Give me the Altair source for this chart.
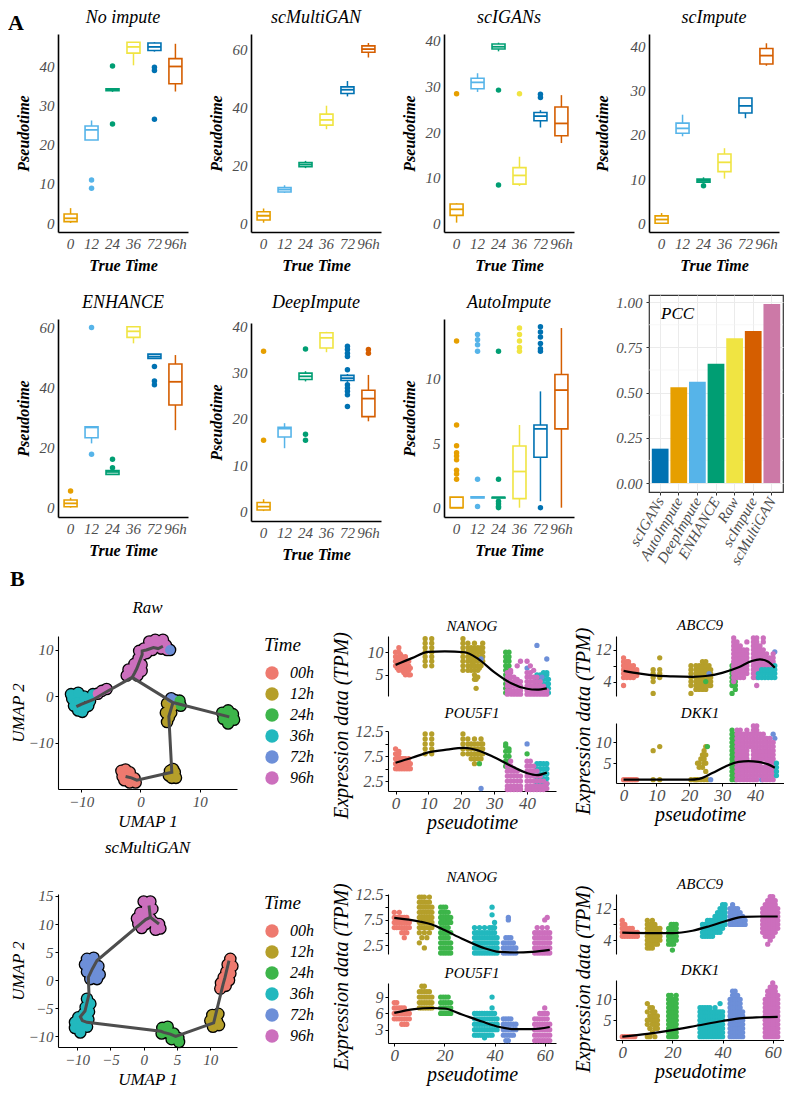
import altair as alt
import pandas as pd

FONT = "Liberation Serif"

# ---------------- Panel A data ----------------
TIMES_A = ["0", "12", "24", "36", "72", "96h"]
COLORS_A = ["#E69F00", "#56B4E9", "#009E73", "#F0E442", "#0072B2", "#D55E00"]

# (lower whisker, q1, median, q3, upper whisker) for each time point
NOIMPUTE_BOX = [(0.0, 0.34, 1.2, 2.3, 3.8), (21.2, 21.2, 23.8, 24.8, 26.2), (33.5, 33.8, 34.1, 34.3, 34.5),
                (40.3, 43.4, 45.0, 46.2, 46.2), (43.8, 44.1, 45.0, 46.0, 46.2), (33.6, 35.6, 40.0, 42.0, 45.8)]
NOIMPUTE_OUT = [("12", 11.0), ("12", 8.9), ("24", 40.1), ("24", 25.3), ("72", 39.8), ("72", 39.0), ("72", 26.5)]

MULTIGAN_BOX = [(0.2, 1.15, 2.6, 4.0, 5.1), (10.5, 10.8, 11.6, 12.3, 13.1), (19.0, 19.5, 20.2, 20.9, 21.5),
                (32.4, 33.8, 35.6, 37.6, 40.5), (43.7, 44.7, 46.0, 47.0, 49.0), (57.1, 58.9, 60.0, 61.1, 62.1)]
MULTIGAN_OUT = []

IGANS_BOX = [(0.15, 1.75, 3.07, 4.24, 4.4), (28.8, 29.5, 30.9, 31.8, 32.9), (37.7, 38.2, 38.7, 39.3, 39.6),
             (8.2, 8.6, 10.5, 12.2, 14.6), (21.0, 22.5, 23.5, 24.3, 24.8), (17.6, 19.2, 21.9, 25.5, 28.1)]
IGANS_OUT = [("0", 28.4), ("24", 29.2), ("24", 8.4), ("36", 28.4), ("72", 28.3), ("72", 27.6)]

SCIMPUTE_BOX = [(0.0, 0.0, 0.83, 1.66, 2.3), (19.7, 20.4, 21.5, 22.7, 24.6), (9.3, 9.3, 9.6, 10.0, 10.4),
                (10.1, 11.7, 13.8, 15.7, 17.0), (23.8, 25.0, 26.6, 28.4, 28.4), (35.7, 36.1, 38.0, 39.6, 40.8)]
SCIMPUTE_OUT = [("24", 8.5)]

ENHANCE_BOX = [(0.0, 0.33, 1.44, 2.55, 3.3), (21.4, 23.3, 26.7, 26.9, 26.9), (10.9, 11.1, 11.9, 12.4, 12.4),
               (54.7, 56.7, 58.7, 60.2, 60.2), (49.7, 49.7, 50.3, 51.1, 51.1), (25.8, 34.2, 41.9, 47.8, 50.8)]
ENHANCE_OUT = [("0", 5.55), ("12", 17.8), ("12", 60.0), ("24", 16.1), ("24", 13.3),
               ("72", 47.0), ("72", 42.2), ("72", 40.9)]

DEEP_BOX = [(0.14, 0.36, 1.08, 2.0, 2.7), (13.7, 16.1, 17.9, 18.2, 19.1), (28.1, 28.5, 29.2, 29.9, 30.3),
            (34.4, 35.3, 37.5, 38.6, 38.8), (28.0, 28.3, 28.8, 29.4, 29.7), (19.5, 20.5, 24.4, 26.2, 29.5)]
DEEP_OUT = [("0", 34.6), ("0", 15.4), ("24", 35.1), ("24", 16.7), ("24", 15.4),
            ("72", 35.7), ("72", 35.0), ("72", 34.2), ("72", 33.5), ("72", 30.6), ("72", 27.4),
            ("72", 26.7), ("72", 26.0), ("72", 25.2), ("72", 22.7), ("96h", 35.0), ("96h", 34.2)]

AUTO_BOX = [(0.0, 0.0, 0.0, 0.82, 0.82), (0.75, 0.75, 0.8, 0.85, 0.85), (0.75, 0.75, 0.8, 0.8, 0.8),
            (0.0, 0.7, 2.8, 4.77, 6.4), (0.5, 3.9, 6.1, 6.4, 9.0), (0.0, 6.1, 9.1, 10.3, 13.9)]
AUTO_OUT = [("0", 12.9), ("0", 6.4), ("0", 4.8), ("0", 4.25), ("0", 4.0), ("0", 3.7), ("0", 2.9), ("0", 2.6), ("0", 2.2),
            ("12", 13.4), ("12", 13.0), ("12", 12.6), ("12", 12.1), ("12", 2.2), ("12", 0.1),
            ("24", 12.1), ("24", 2.2), ("24", 0.5), ("24", 0.3), ("24", 0.1), ("24", 0.0),
            ("36", 13.9), ("36", 13.4), ("36", 12.9), ("36", 12.4), ("36", 12.1),
            ("72", 14.0), ("72", 13.6), ("72", 13.2), ("72", 12.7), ("72", 12.3), ("72", 12.1), ("72", 0.0)]

PCC_METHODS = ["scIGANs", "AutoImpute", "DeepImpute", "ENHANCE", "Raw", "scImpute", "scMultiGAN"]
PCC_VALUES = [0.19, 0.53, 0.56, 0.66, 0.80, 0.84, 0.99]
PCC_COLORS = ["#0072B2", "#E69F00", "#56B4E9", "#009E73", "#F0E442", "#D55E00", "#CC79A7"]
PCC_MINOR = [0.125, 0.375, 0.625, 0.875]

# ---------------- Panel B data ----------------
TIMES_B = ["00h", "12h", "24h", "36h", "72h", "96h"]
COLORS_B = ["#EE7A6F", "#B59F2A", "#3DB54A", "#22B8BE", "#6D8FD8", "#CC6FBD"]

# UMAP cluster points (time, UMAP1, UMAP2)
UMAP_RAW = [
    ("96h", -0.3, 8.2), ("96h", 0.3, 9.0), ("96h", -0.2, 9.8), ("96h", 0.6, 10.3), ("96h", 1.5, 10.8),
    ("96h", 1.5, 11.8), ("96h", 2.5, 11.2), ("96h", 2.5, 12.2), ("96h", 3.3, 11.5), ("96h", 3.5, 10.3),
    ("96h", 4.3, 11.0), ("96h", 4.5, 10.0), ("96h", 2.0, 10.0), ("96h", 1.0, 9.3), ("96h", 3.8, 12.2),
    ("72h", 5.0, 10.0),
    ("96h", -2.3, 4.5), ("96h", -1.5, 5.5), ("96h", -0.6, 6.3), ("96h", 0.2, 6.8), ("96h", -0.5, 4.5),
    ("96h", 0.2, 5.5), ("96h", -2.0, 5.8), ("96h", -1.0, 7.0),
    ("36h", -11.5, -0.5), ("36h", -11.2, -2.0), ("36h", -10.5, -3.0), ("36h", -10.3, -1.0), ("36h", -9.5, 0.0),
    ("36h", -9.3, -2.3), ("36h", -8.5, -1.0), ("36h", -8.0, 0.5), ("36h", -11.7, 0.5), ("36h", -10.5, 0.8),
    ("36h", -9.8, -3.3), ("36h", -8.8, -2.0),
    ("96h", -7.2, 0.6), ("96h", -6.5, 1.2), ("96h", -5.7, 1.6),
    ("12h", 4.5, -1.5), ("12h", 5.0, -2.5), ("12h", 4.3, -3.5), ("12h", 4.8, -4.5), ("12h", 4.5, -5.5),
    ("12h", 5.5, -2.0), ("12h", 5.2, -3.5),
    ("72h", 5.2, -0.4), ("72h", 5.8, -0.8), ("24h", 6.6, -0.9), ("24h", 6.8, -2.0),
    ("12h", 5.0, -16.0), ("12h", 5.8, -16.3), ("12h", 5.3, -17.5), ("12h", 6.0, -17.5), ("12h", 4.8, -17.0),
    ("12h", 5.5, -15.6),
    ("24h", 13.8, -3.5), ("24h", 14.8, -3.0), ("24h", 15.6, -3.8), ("24h", 14.0, -4.8), ("24h", 15.0, -5.0),
    ("24h", 15.8, -5.0), ("24h", 14.8, -5.8),
    ("00h", -3.2, -16.0), ("00h", -2.5, -15.7), ("00h", -1.8, -16.3), ("00h", -3.0, -17.2), ("00h", -2.0, -17.5),
    ("00h", -1.0, -17.6), ("00h", -0.8, -18.5), ("00h", -1.8, -18.5), ("00h", -2.7, -18.0),
]
TRAJ_RAW = [
    [(3.8, 10.8), (3.0, 10.3), (2.2, 10.5), (1.5, 10.2), (1.0, 10.0), (0.3, 9.8), (0.3, 9.0), (0.0, 8.0),
     (-0.3, 7.0), (-0.6, 6.0), (-1.0, 5.0), (-1.4, 4.1)],
    [(-1.4, 4.1), (-6.0, 0.8), (-8.0, -0.7), (-10.0, -1.7), (-10.8, -2.2)],
    [(-1.4, 4.1), (5.5, -1.3), (15.0, -4.4)],
    [(5.5, -1.3), (4.8, -4.3), (5.3, -16.3), (-0.6, -18.0), (-1.5, -17.5), (-2.5, -17.2)],
]

UMAP_MG = [
    ("96h", 0.0, 14.0), ("96h", 1.0, 14.0), ("96h", 0.5, 13.0), ("96h", 1.3, 12.7), ("96h", -0.5, 12.0),
    ("96h", 0.5, 12.0), ("96h", -1.0, 11.0), ("96h", 0.0, 11.0), ("96h", 1.0, 11.0), ("96h", -0.8, 10.0),
    ("96h", 0.3, 10.0), ("96h", 1.5, 10.3), ("96h", 2.3, 10.0), ("96h", 2.5, 9.2), ("96h", 1.8, 9.0),
    ("96h", -0.3, 9.3),
    ("72h", -8.5, 3.8), ("72h", -7.5, 4.0), ("72h", -8.8, 2.8), ("72h", -7.8, 2.8), ("72h", -6.8, 2.5),
    ("72h", -8.5, 1.5), ("72h", -7.5, 1.5), ("72h", -6.6, 1.0), ("72h", -8.0, 0.2), ("72h", -7.0, 0.2),
    ("36h", -8.5, -3.3), ("36h", -8.0, -4.2), ("36h", -8.7, -4.8), ("36h", -8.2, -5.6), ("36h", -9.0, -6.0),
    ("36h", -9.8, -6.6), ("36h", -10.3, -7.5), ("36h", -9.3, -7.3), ("36h", -8.3, -7.0), ("36h", -10.3, -8.5),
    ("36h", -9.5, -8.7), ("36h", -8.5, -8.3), ("36h", -9.5, -9.3),
    ("24h", 2.8, -8.5), ("24h", 3.6, -8.3), ("24h", 2.7, -9.5), ("24h", 3.7, -9.4), ("24h", 4.5, -9.5),
    ("24h", 4.2, -10.5), ("24h", 5.2, -10.3), ("24h", 5.3, -11.0),
    ("12h", 10.3, -6.2), ("12h", 11.2, -6.0), ("12h", 10.0, -7.2), ("12h", 11.0, -7.3), ("12h", 10.4, -8.3),
    ("12h", 11.3, -8.0),
    ("00h", 13.0, 3.8), ("00h", 12.6, 2.8), ("00h", 13.3, 2.5), ("00h", 12.4, 1.5), ("00h", 13.0, 1.2),
    ("00h", 12.0, 0.5), ("00h", 12.8, 0.0), ("00h", 11.6, -0.5), ("00h", 12.3, -1.0), ("00h", 11.5, -1.5),
]
TRAJ_MG = [
    [(12.8, 3.5), (12.5, 2.0), (12.2, 0.5), (11.9, -0.8), (10.5, -7.6), (4.8, -10.0), (4.0, -9.6), (3.0, -9.3),
     (2.6, -9.1), (-8.5, -7.5), (-9.2, -7.2), (-9.5, -6.5), (-8.8, -5.5), (-8.5, -4.0), (-8.2, -2.5),
     (-8.3, 0.5), (-7.7, 2.0), (-7.0, 3.5), (0.3, 10.8), (1.0, 11.2), (2.3, 10.0)],
    [(1.0, 11.2), (0.9, 12.3), (0.8, 13.3)],
]

# Gene expression columns: (time, pseudotime, [expression values])
RAW_NANOG = [
    ("00h", 0, [7, 8, 9, 10]), ("00h", 0.5, [6.5, 7.5, 8.5]), ("00h", 1, [6, 7, 8, 9, 10, 11]),
    ("00h", 1.5, [6.5, 7.5, 8.5, 9.5]), ("00h", 2, [6, 7, 8, 9]), ("00h", 2.5, [5.5, 6.5, 7.5, 8.5]),
    ("00h", 3, [5, 6, 7, 8, 9]), ("00h", 3.5, [6, 7]), ("00h", 4, [5, 6, 7, 8]), ("00h", 4.5, [5, 6.5]),
    ("12h", 9, [7, 8, 9, 10, 11, 12, 13]), ("12h", 11, [7, 8, 9, 10, 11, 12, 13]),
    ("12h", 20.5, [6, 7, 8, 9, 10, 11, 12, 13]), ("12h", 22, [6, 7, 8, 9, 10, 11, 12]),
    ("12h", 23, [6, 7, 8, 9, 10, 11]), ("12h", 23.5, [7.5, 9.5]), ("12h", 24, [4, 5, 6, 7, 8, 9, 10, 11, 12]),
    ("12h", 24.5, [2, 4]), ("12h", 25, [4.5, 6, 7, 8, 9, 10, 11]), ("12h", 25.5, [6.5, 8.5, 10.5]),
    ("12h", 26, [7, 8, 9, 10, 11]), ("12h", 26.5, [8, 9, 10, 11, 12]),
    ("24h", 33.5, [1, 2, 3, 4, 5, 6, 7, 8, 9, 10]), ("24h", 34.5, [1, 2, 3, 4, 5, 6, 7, 8, 9, 10]),
    ("36h", 43, [1, 2, 3, 4, 5]), ("36h", 44, [1, 2, 3, 4, 5]), ("36h", 45, [1, 2, 3, 4, 5, 5.5]),
    ("36h", 46, [1, 2, 3, 4, 5, 5.5]), ("36h", 46.5, [1, 2, 3, 4]),
    ("72h", 26, [8.5]), ("72h", 40, [6.5]), ("72h", 43, [11.5]), ("72h", 46, [8.5]), ("72h", 44.5, [4.5]),
    ("96h", 34, [0.7, 1.5, 2.5, 3.5, 4.5, 5.5]), ("96h", 35, [0.7, 1.5, 2.5, 3.5, 4.5, 5.5, 6]),
    ("96h", 36, [0.7, 1.5, 2.5, 3.5, 4.5]), ("96h", 37, [0.7, 1.5, 2.5, 3.5, 4, 7]),
    ("96h", 38, [0.7, 1.5, 2.5, 3.5, 8]), ("96h", 40, [0.7, 1.5, 2.5, 3.5, 4.5, 5.5, 8]),
    ("96h", 41, [0.7, 1.5, 2.5, 3.5, 4.5, 5.5, 7]), ("96h", 42, [0.7, 1.5, 2.5, 3.5, 4.5, 6]),
    ("96h", 43, [0.7, 1.5, 2.5, 3.5, 4.5]), ("96h", 44, [0.7, 1.5, 2.5, 3.5]),
    ("96h", 45, [0.7, 1.5, 2.5]), ("96h", 46, [0.7, 1.5]),
]
RAW_NANOG_CURVE_X = [0, 5, 10, 15, 21, 25, 30, 35, 40, 43, 46]
RAW_NANOG_CURVE_Y = [7.2, 8.7, 10.1, 10.2, 10.0, 8.6, 5.6, 3.2, 1.9, 1.7, 2.0]

RAW_POU5F1 = [
    ("00h", 0, [5, 6, 7, 8, 9]), ("00h", 0.5, [5, 6, 7, 8]), ("00h", 1, [5, 6, 7, 8, 8.5]), ("00h", 1.5, [5, 6, 7]),
    ("00h", 2, [5, 5.5, 6, 7]), ("00h", 2.5, [5, 6, 7]), ("00h", 3, [5, 6, 7]), ("00h", 3.5, [5, 6]),
    ("00h", 4, [5, 6, 7]), ("00h", 4.5, [5, 6]),
    ("12h", 9, [8, 9, 10, 11, 12]), ("12h", 11, [8, 9, 10, 11, 12]), ("12h", 20.5, [8, 9, 10, 11, 12]),
    ("12h", 22, [8, 9, 10, 11]), ("12h", 23, [7, 8, 9, 10]), ("12h", 24, [6, 7, 8, 9, 10, 11]),
    ("12h", 25, [7, 8, 9, 10]), ("12h", 26, [7, 8, 9, 10, 11]), ("12h", 26.5, [8, 9, 10]),
    ("24h", 25.5, [6]), ("24h", 33.5, [5.5, 6.5, 7.5, 8.5, 9.5, 10]), ("24h", 34.5, [5.5, 6.5, 7.5, 8.5, 9]),
    ("24h", 40, [8]),
    ("72h", 26, [1]), ("72h", 40, [10]), ("72h", 44, [6]), ("72h", 46, [5]),
    ("36h", 43, [2, 3, 4, 5, 6]), ("36h", 44, [2, 3, 4, 5, 6]), ("36h", 45, [2, 3, 4, 5, 6]),
    ("36h", 46, [2, 3, 4, 5, 6]),
    ("96h", 34, [0.8, 1.5, 2.5, 3.5, 4.5, 5.5]), ("96h", 35, [0.8, 1.5, 2.5, 3.5, 4.5, 5.5, 6.5]),
    ("96h", 36, [0.8, 1.5, 2.5, 3.5, 4.5, 5]), ("96h", 37, [0.8, 1.5, 2.5, 3.5, 4.5]),
    ("96h", 38, [0.8, 1.5, 2.5, 3.5]), ("96h", 40, [0.8, 1.5, 2.5, 3.5, 4.5, 5.5, 6.5]),
    ("96h", 41, [0.8, 1.5, 2.5, 3.5, 4.5, 5.5, 6.5]), ("96h", 42, [0.8, 1.5, 2.5, 3.5, 4.5, 5.5]),
    ("96h", 43, [0.8, 1.5, 2.5, 3.5, 4.5]), ("96h", 44, [0.8, 1.5, 2.5, 3.5]),
    ("96h", 45, [0.8, 1.5, 2.5]), ("96h", 46, [1, 2]),
]
RAW_POU5F1_CURVE_X = [0, 5, 10, 15, 21, 25, 30, 35, 40, 43, 46]
RAW_POU5F1_CURVE_Y = [6.2, 7.2, 8.3, 8.8, 9.2, 8.7, 7.3, 5.6, 4.1, 3.7, 4.2]

RAW_ABCC9 = [
    ("00h", 0, [3, 5, 6, 7, 8, 9, 10]), ("00h", 0.5, [6, 7, 8]), ("00h", 1, [5, 6, 7, 8, 9]),
    ("00h", 1.5, [6, 7, 9]), ("00h", 2, [5, 6, 7, 8]), ("00h", 2.5, [6, 7]), ("00h", 3, [5, 6, 7, 8]),
    ("00h", 4, [5.5, 6.5, 7]),
    ("12h", 9, [1, 4, 5, 6, 7]), ("12h", 11, [5, 6, 7, 10]), ("12h", 20.5, [1, 3, 4, 5, 6, 7, 8]),
    ("12h", 22, [2, 3, 4, 5, 6, 7, 8]), ("12h", 23, [2, 3, 4, 5, 6, 7, 8]),
    ("12h", 24, [2, 3, 4, 5, 6, 7, 8, 9]), ("12h", 25, [2, 3, 4, 5, 6, 7, 8, 9]),
    ("12h", 26, [3, 4, 5, 6, 7, 8]), ("12h", 26.5, [3, 4, 5, 6, 7]),
    ("72h", 26, [6]), ("72h", 46, [11.5]),
    ("24h", 25, [4]), ("24h", 33, [1, 3, 4, 5, 6, 7, 8]), ("24h", 34, [2, 3, 4, 5, 6, 7]),
    ("96h", 33.5, [4, 5, 6, 7, 8, 9, 10, 11, 12, 13, 14, 15]), ("96h", 34.5, [5, 6, 7, 8, 9, 10, 11, 12, 13, 14]),
    ("96h", 35.5, [5, 6, 7, 8, 9, 10, 11, 12, 13]), ("96h", 36.5, [5, 6, 7, 8, 9, 10, 11, 12]),
    ("96h", 37.5, [6, 7, 8, 9, 10, 11, 12, 14]), ("96h", 39.5, [5, 6, 7, 8, 9, 10, 11, 12, 13, 14, 15]),
    ("96h", 40.5, [3, 5, 6, 7, 8, 9, 10, 11, 12, 13, 14, 15]), ("96h", 41.5, [7, 8, 9, 10, 11, 12, 13]),
    ("96h", 42.5, [8, 9, 10, 11, 12, 14, 15]), ("96h", 43.5, [8, 9, 10, 11]),
    ("96h", 44.5, [8, 9, 10]), ("96h", 45.5, [8, 9, 10, 11]),
    ("36h", 41, [5, 6]), ("36h", 42, [5, 6, 7]), ("36h", 43, [5, 6, 7]), ("36h", 44, [5, 6, 7]),
    ("36h", 45, [5, 6, 7]), ("36h", 46, [5, 6, 7, 8]),
]
RAW_ABCC9_CURVE_X = [0, 5, 10, 15, 21, 25, 30, 35, 39, 41.5, 44, 46]
RAW_ABCC9_CURVE_Y = [6.7, 6.0, 5.5, 5.3, 5.2, 5.4, 6.2, 7.6, 9.2, 9.6, 9.0, 7.5]

RAW_DKK1 = [
    ("00h", 0, [1]), ("00h", 0.5, [1]), ("00h", 1, [1]), ("00h", 1.5, [1]), ("00h", 2, [1]), ("00h", 2.5, [1]),
    ("00h", 3, [1]), ("00h", 3.5, [1]), ("00h", 4, [1]),
    ("12h", 9, [1, 8]), ("12h", 11, [1, 9]), ("12h", 20.5, [1]), ("12h", 21.5, [1]), ("12h", 22, [1]),
    ("12h", 22.5, [1, 5]), ("12h", 23, [4, 5]), ("12h", 23.5, [1, 6]), ("12h", 24, [4, 7]),
    ("12h", 24.5, [1, 5, 6, 8]), ("12h", 25, [3, 5, 7, 9]), ("12h", 25.5, [1]),
    ("24h", 25.5, [9]), ("24h", 33, [1, 2, 3, 4, 5, 6, 7, 8, 9, 10, 11, 12, 13]),
    ("24h", 34, [1, 2, 3, 4, 5, 6, 7, 8, 9, 10, 11, 12]),
    ("72h", 26.5, [1]), ("72h", 42, [1]), ("72h", 45.5, [12]), ("72h", 46, [3, 11]),
    ("96h", 34.5, [1, 2, 3, 4, 5, 6, 7, 8, 9, 10, 11, 12, 13]),
    ("96h", 35.5, [1, 2, 3, 4, 5, 6, 7, 8, 9, 10, 11, 12, 13]),
    ("96h", 36.5, [1, 2, 3, 4, 5, 6, 7, 8, 9, 10, 11, 12]),
    ("96h", 37.5, [1, 2, 3, 4, 5, 6, 7, 8, 9, 10, 11, 12, 13]),
    ("96h", 38.5, [1, 2, 3, 4, 5, 9, 10, 11, 12]),
    ("96h", 39.5, [1, 2, 3, 4, 5, 6, 7, 8, 9, 10, 11, 12, 13, 14]),
    ("96h", 40.5, [1, 2, 3, 4, 5, 6, 7, 8, 9, 10, 11, 12, 13, 14]),
    ("96h", 41.5, [2, 3, 4, 5, 6, 7, 8, 9, 10, 11, 12]),
    ("96h", 42.5, [1, 2, 3, 4, 6, 7, 8, 9, 10, 11, 12]),
    ("96h", 43.5, [1, 2, 3, 4, 5, 6, 7, 8, 9, 10, 11]),
    ("96h", 44.5, [1, 2, 3, 4, 5, 6, 7, 8, 9, 10, 11]),
    ("96h", 45.5, [1, 2, 3, 4, 5, 6, 7, 8, 9, 10]),
    ("36h", 46.5, [2, 3, 4, 5]),
]
RAW_DKK1_CURVE_X = [0, 10, 20, 23, 27, 31, 35, 38, 41, 44, 46]
RAW_DKK1_CURVE_Y = [1.0, 1.0, 1.0, 1.2, 2.6, 4.2, 5.3, 5.5, 5.3, 4.7, 3.9]

MG_NANOG = [
    ("00h", 0, [6, 7, 8, 9]), ("00h", 1, [6, 7, 8]), ("00h", 2, [6, 7, 8, 9]), ("00h", 3, [5, 6, 7, 8]),
    ("00h", 4, [4, 5, 6, 7, 8]), ("00h", 5, [5, 6, 7, 8]), ("00h", 6, [6, 7]),
    ("12h", 10, [3, 5, 6, 7, 8, 9, 10, 11, 12]), ("12h", 11, [4, 6, 7, 8, 9, 10, 11, 12]),
    ("12h", 12, [2, 5, 6, 7, 8, 9, 10, 11, 12]), ("12h", 13, [4, 6, 7, 8, 9, 10, 11]),
    ("12h", 14, [5, 6, 7, 8, 9, 10, 11, 12]), ("12h", 15, [6, 7, 8, 9, 10]),
    ("24h", 18.5, [1, 2, 3, 4, 5, 6, 7, 8, 9, 10]), ("24h", 19.5, [1, 2, 3, 4, 5, 6, 7, 8, 9, 10]),
    ("24h", 20.5, [1, 2, 3, 4, 5, 6, 7, 8, 9, 10]), ("24h", 21.5, [1, 2, 3, 4, 5, 6, 7, 8, 9]),
    ("24h", 22.5, [1, 2, 3, 5, 7, 8]),
    ("36h", 32, [1, 2, 3, 4, 5, 6]), ("36h", 33, [1, 2, 3, 4, 5]), ("36h", 34, [1, 2, 3, 4, 5, 6]),
    ("36h", 35, [1, 2, 3, 4, 5]), ("36h", 36, [1, 2, 3, 4, 5, 6]), ("36h", 37, [1, 2, 3, 4, 5]),
    ("36h", 38, [1, 2, 3, 4, 5, 6]), ("36h", 39, [1, 2, 3, 4, 5, 6, 8.5, 10]),
    ("36h", 40, [1, 2, 3, 4, 5, 6, 7]), ("36h", 41, [1, 2, 3, 4]),
    ("72h", 43.5, [1, 2, 3]), ("72h", 44.5, [1, 2, 3, 4]), ("72h", 45.5, [1, 2, 3, 4, 7.5, 8]),
    ("72h", 46.5, [1, 2, 3, 4]), ("72h", 47.5, [1, 2, 3]), ("72h", 48.5, [1, 2]),
    ("96h", 56, [1, 2, 3, 4, 5]), ("96h", 57, [1, 2, 3, 4, 5, 6]), ("96h", 58, [1, 2, 3, 4, 5]),
    ("96h", 59, [1, 2, 3, 4, 5, 6]), ("96h", 60, [1, 2, 3, 4, 5, 7.5]), ("96h", 61, [1, 2, 3, 4, 5, 6, 8]),
    ("96h", 62, [1, 2, 3, 4, 5]),
]
MG_NANOG_CURVE_X = [0, 10, 15, 20, 27, 35, 42, 48, 55, 62]
MG_NANOG_CURVE_Y = [7.9, 7.2, 6.6, 5.5, 3.8, 2.1, 1.2, 1.1, 1.2, 1.6]

MG_POU5F1 = [
    ("00h", 0, [5, 6, 7, 8]), ("00h", 1, [5, 6, 7, 8]), ("00h", 2, [5, 6, 7]), ("00h", 3, [4, 5, 6, 7]),
    ("00h", 4, [4, 5, 6, 7]), ("00h", 5, [4, 5, 6]), ("00h", 6, [5, 6]),
    ("12h", 10, [7, 8, 9, 10]), ("12h", 11, [7, 8, 9, 10, 11]), ("12h", 12, [7, 8, 9, 10, 11]),
    ("12h", 13, [7, 8, 9, 10]), ("12h", 14, [7, 8, 9, 10]), ("12h", 15, [7, 8, 9]),
    ("24h", 18.5, [6, 7, 8, 9]), ("24h", 19.5, [6, 7, 8, 9]), ("24h", 20.5, [6, 7, 8, 9]),
    ("24h", 21.5, [6, 7, 8, 9]), ("24h", 22.5, [6, 7, 8]),
    ("36h", 32, [2, 3, 4, 5, 6]), ("36h", 33, [2, 3, 4, 5, 6]), ("36h", 34, [2, 3, 4, 5, 6]),
    ("36h", 35, [2, 3, 4, 5, 6]), ("36h", 36, [1.5, 2, 3, 4, 5, 6]), ("36h", 37, [2, 3, 4, 5, 6]),
    ("36h", 38, [2, 3, 4, 5, 6]), ("36h", 39, [2, 3, 4, 5, 6, 7, 9]), ("36h", 40, [3, 4, 5, 6]),
    ("36h", 41, [3, 4, 5]),
    ("72h", 43.5, [2, 3, 4, 5]), ("72h", 44.5, [1, 2, 3, 4, 5]), ("72h", 45.5, [1, 2, 3, 4, 5]),
    ("72h", 46.5, [2, 3, 4, 5]), ("72h", 47.5, [2, 3, 4]), ("72h", 48.5, [3, 4]),
    ("96h", 56, [1, 2, 3, 4, 5]), ("96h", 57, [1, 2, 3, 4, 5]), ("96h", 58, [1, 2, 3, 4, 5, 6]),
    ("96h", 59, [1, 2, 3, 4, 5, 6]), ("96h", 60, [1, 2, 3, 4, 5, 6, 7]), ("96h", 61, [1, 2, 3, 4, 5, 6]),
    ("96h", 62, [1, 2, 3, 4]),
]
MG_POU5F1_CURVE_X = [0, 8, 15, 20, 27, 35, 42, 48, 55, 62]
MG_POU5F1_CURVE_Y = [6.1, 6.8, 7.0, 6.9, 5.8, 4.5, 3.5, 3.1, 3.1, 3.5]

MG_ABCC9 = [
    ("00h", 0, [5, 6, 7, 8, 9]), ("00h", 1, [5, 6, 7, 8]), ("00h", 2, [5, 6, 7]), ("00h", 3, [5, 6, 7]),
    ("00h", 4, [5, 6, 7]), ("00h", 5, [5, 6]), ("00h", 6, [5, 6]),
    ("12h", 10, [2, 3, 4, 5, 6, 7, 8, 9]), ("12h", 11, [2, 3, 4, 5, 6, 7, 8]), ("12h", 12, [2, 3, 4, 5, 6, 7, 8, 9]),
    ("12h", 13, [3, 4, 5, 6, 7, 8]), ("12h", 14, [3, 4, 5, 6, 7]), ("12h", 15, [4, 5, 6, 7]),
    ("24h", 18.5, [3, 4, 5, 6, 7]), ("24h", 19.5, [3, 4, 5, 6, 7, 8]), ("24h", 20, [1.5]),
    ("24h", 20.5, [3, 4, 5, 6, 7, 8]), ("24h", 21.5, [4, 5, 6, 7, 8]),
    ("36h", 32, [5, 6, 7, 8]), ("36h", 33, [5, 6, 7, 8]), ("36h", 34, [5, 6, 7, 8, 9]), ("36h", 35, [5, 6, 7, 8, 9]),
    ("36h", 36, [5, 6, 7, 8, 9]), ("36h", 37, [6, 7, 8, 9, 10]), ("36h", 38, [6, 7, 8, 9, 10, 11]),
    ("36h", 39, [6, 7, 8, 9, 10, 11, 12]), ("36h", 40, [7, 8, 9, 10, 11, 12, 13]), ("36h", 41, [8, 9, 10, 11, 12, 13]),
    ("72h", 43, [8, 9, 10, 11, 12]), ("72h", 44, [8, 9, 10, 11, 12, 13]), ("72h", 45, [8, 9, 10, 11, 12]),
    ("72h", 46, [8, 9, 10, 11, 12]), ("72h", 47, [8, 9, 10, 11]), ("72h", 48, [8, 9, 10]), ("72h", 49, [8, 9]),
    ("96h", 56, [6, 7, 8, 9, 10, 11, 12]), ("96h", 57, [5, 6, 7, 8, 9, 10, 11, 12, 13]),
    ("96h", 58, [3, 5, 6, 7, 8, 9, 10, 11, 12, 13, 14]), ("96h", 59, [4, 5, 6, 7, 8, 9, 10, 11, 12, 13, 14, 15]),
    ("96h", 60, [5, 6, 7, 8, 9, 10, 11, 12, 13, 14, 15]), ("96h", 61, [6, 7, 8, 9, 10, 11, 12, 13, 14]),
    ("96h", 62, [7, 8, 9, 10, 11, 12]),
]
MG_ABCC9_CURVE_X = [0, 10, 20, 28, 35, 42, 48, 55, 62]
MG_ABCC9_CURVE_Y = [5.9, 5.8, 5.8, 6.4, 7.6, 9.0, 9.9, 10.0, 10.0]

MG_DKK1 = [
    ("00h", 0, [1]), ("00h", 1, [1]), ("00h", 2, [1]), ("00h", 3, [1]), ("00h", 4, [1]), ("00h", 5, [1]),
    ("12h", 10, [1, 4, 5, 7, 9]), ("12h", 11, [1, 3, 5, 6, 8]), ("12h", 12, [2, 4, 5, 6, 7, 8]),
    ("12h", 13, [1, 3, 4, 5, 6, 7]), ("12h", 14, [3, 4, 5, 6]),
    ("24h", 18.5, [1, 2, 3, 4, 5, 6, 7, 8, 9, 10, 11]), ("24h", 19.5, [1, 2, 3, 4, 5, 6, 7, 8, 9, 10, 11]),
    ("24h", 20.5, [1, 2, 3, 4, 5, 6, 7, 8, 9, 10]), ("24h", 21.5, [1, 2, 3, 4, 5, 6, 7, 8, 9, 10, 11]),
    ("36h", 31, [1, 2, 3, 4, 5, 6, 7, 8]), ("36h", 32, [1, 2, 3, 4, 5, 6, 7, 8]), ("36h", 33, [1, 2, 3, 4, 5, 6, 7, 8]),
    ("36h", 34, [1, 2, 3, 4, 5, 6, 7, 8]), ("36h", 35, [1, 2, 3, 4, 5, 6, 7, 8]), ("36h", 36, [1, 2, 3, 4, 5, 6, 7]),
    ("36h", 37, [1, 2, 3, 4, 5, 6, 7, 8]), ("36h", 38, [1, 2, 3, 4, 5, 6, 7]), ("36h", 39, [1, 2, 3, 4, 5, 6, 7, 9]),
    ("36h", 40, [1, 2, 3, 4, 5, 6, 7]),
    ("72h", 43, [1, 2, 3, 4, 5, 6, 7, 8, 9, 10]), ("72h", 44, [1, 2, 3, 4, 5, 6, 7, 8, 9, 10, 11, 12]),
    ("72h", 45, [1, 2, 3, 4, 5, 6, 7, 8, 9, 10, 11, 12]), ("72h", 46, [1, 2, 3, 4, 5, 6, 7, 8, 9, 10, 11]),
    ("72h", 47, [1, 2, 3, 4, 5, 6, 7, 8, 9, 10]), ("72h", 48, [1, 2, 3, 4, 5, 6, 7]),
    ("96h", 57, [1, 2, 3, 4, 5, 6, 7, 8, 9, 10]), ("96h", 58, [1, 2, 3, 4, 5, 6, 7, 8, 9, 10, 11, 12]),
    ("96h", 59, [1, 2, 3, 4, 5, 6, 7, 8, 9, 10, 11, 12, 13]),
    ("96h", 60, [1, 2, 3, 4, 5, 6, 7, 8, 9, 10, 11, 12, 13, 14]),
    ("96h", 61, [1, 2, 3, 4, 5, 6, 7, 8, 9, 10, 11, 12, 13]), ("96h", 62, [1, 2, 3, 4, 5, 6, 7, 8, 9, 10, 11]),
]
MG_DKK1_CURVE_X = [0, 10, 20, 30, 40, 48, 55, 62]
MG_DKK1_CURVE_Y = [1.0, 1.7, 2.6, 3.7, 4.8, 5.5, 5.7, 5.8]


# ---------------- helpers ----------------
def indep(c):
    return c.resolve_scale(color="independent", stroke="independent")


def box_panel(name, stats, outliers, ydom, yticks, tpad=8, width=130, height=198):
    lo, q1, med, q3, hi = zip(*stats)
    df = pd.DataFrame({"time": TIMES_A, "lo": lo, "q1": q1, "med": med, "q3": q3, "hi": hi})
    xenc = alt.X("time:N", sort=TIMES_A,
                 scale=alt.Scale(domain=TIMES_A, paddingInner=0, paddingOuter=0.1),
                 axis=alt.Axis(title="True Time", labelAngle=0))
    yscale = alt.Scale(domain=ydom, nice=False, zero=False)
    yaxis = alt.Axis(title="Pseudotime", values=yticks, titlePadding=tpad)

    def Y(f):
        return alt.Y(f + ":Q", scale=yscale, axis=yaxis)

    cscale = alt.Scale(domain=TIMES_A, range=COLORS_A)
    col = alt.Color("time:N", scale=cscale, legend=None)
    stk = alt.Stroke("time:N", scale=cscale, legend=None)
    base = alt.Chart(df)
    w1 = base.mark_rule(strokeWidth=1.5).encode(x=xenc, y=Y("lo"), y2="q1:Q", color=col)
    w2 = base.mark_rule(strokeWidth=1.5).encode(x=xenc, y=Y("q3"), y2="hi:Q", color=col)
    box = base.mark_bar(fill="white", strokeWidth=1.6, width=alt.RelativeBandSize(0.62)).encode(
        x=xenc, y=Y("q1"), y2="q3:Q", stroke=stk)
    md = base.mark_tick(thickness=1.8, size=13, opacity=1).encode(x=xenc, y=Y("med"), color=col)
    layers = [w1, w2, box, md]
    if outliers:
        odf = pd.DataFrame(outliers, columns=["time", "v"])
        layers.append(alt.Chart(odf).mark_circle(size=30, opacity=1).encode(x=xenc, y=Y("v"), color=col))
    return alt.layer(*layers).properties(
        width=width, height=height,
        title=alt.TitleParams(name, fontSize=18, offset=7))


def pcc_panel():
    df = pd.DataFrame({"method": PCC_METHODS, "pcc": PCC_VALUES})
    yscale = alt.Scale(domain=[-0.0495, 1.0395], nice=False, zero=False)
    yaxis = alt.Axis(title=None, values=[0, 0.25, 0.5, 0.75, 1.0], format=".2f", grid=True,
                     gridColor="#EBEBEB", ticks=True, tickSize=3, tickColor="#333333", domain=False)
    x = alt.X("method:N", sort=PCC_METHODS,
              scale=alt.Scale(domain=PCC_METHODS, paddingInner=0.1, paddingOuter=0.15),
              axis=alt.Axis(title=None, labelAngle=300, labelAlign="right", labelBaseline="middle",
                            grid=True, gridColor="#EBEBEB", ticks=True, tickSize=3, tickColor="#333333",
                            domain=False, bandPosition=0.5, labelPadding=3))
    minor = alt.Chart(pd.DataFrame({"m": PCC_MINOR})).mark_rule(color="#F4F4F4", strokeWidth=0.7).encode(
        y=alt.Y("m:Q", scale=yscale, axis=yaxis))
    bars = alt.Chart(df).mark_bar().encode(
        x=x, y=alt.Y("pcc:Q", scale=yscale, axis=yaxis), y2=alt.datum(0),
        color=alt.Color("method:N", scale=alt.Scale(domain=PCC_METHODS, range=PCC_COLORS), legend=None))
    lab = alt.Chart(pd.DataFrame({"t": ["PCC"]})).mark_text(
        font=FONT, fontSize=17, fontStyle="italic", align="left", baseline="middle", color="black"
    ).encode(text="t:N", x=alt.value(12), y=alt.value(19))
    return alt.layer(minor, bars, lab).properties(
        width=134, height=197, view=alt.ViewBackground(stroke="#333333", strokeWidth=1.2))


def umap_panel(points, traj, xdom, ydom, xticks, yticks, title, toff):
    df = pd.DataFrame(points, columns=["time", "u1", "u2"])
    rows = []
    for pid, path in enumerate(traj):
        for k, (a, b) in enumerate(path):
            rows.append({"pid": pid, "seq": k, "u1": a, "u2": b})
    tdf = pd.DataFrame(rows)
    ax = dict(labelFontSize=15, titleFontSize=17, titleFontWeight="normal", ticks=True, tickSize=3,
              tickColor="black", domainWidth=1.1, labelPadding=2)
    X = alt.X("u1:Q", scale=alt.Scale(domain=xdom, nice=False, zero=False),
              axis=alt.Axis(title="UMAP 1", values=xticks, titlePadding=4, **ax))
    Y = alt.Y("u2:Q", scale=alt.Scale(domain=ydom, nice=False, zero=False),
              axis=alt.Axis(title="UMAP 2", values=yticks, titlePadding=0, **ax))
    outline = alt.Chart(df).mark_circle(size=160, opacity=1, color="black").encode(x=X, y=Y)
    fill = alt.Chart(df).mark_circle(size=100, opacity=1).encode(
        x=X, y=Y,
        color=alt.Color("time:N", scale=alt.Scale(domain=TIMES_B, range=COLORS_B),
                        legend=alt.Legend(title="Time", orient="right", offset=27, symbolType="circle",
                                          symbolSize=180, symbolStrokeWidth=0, titleFontSize=19,
                                          titleFontStyle="italic", titleFontWeight="normal",
                                          labelFontSize=16, labelFontStyle="italic", labelColor="black",
                                          titleColor="black", rowPadding=5, titlePadding=10,
                                          labelOffset=10, padding=0)))
    line = alt.Chart(tdf).mark_line(color="#4D4D4D", strokeWidth=3).encode(
        x=X, y=Y, detail="pid:N", order="seq:Q")
    return alt.layer(outline, fill, line).properties(
        width=179, height=153, title=alt.TitleParams(title, fontSize=17, offset=toff))


def gene_panel(cols, cx, cy, xdom, xticks, ydom, yticks, title, bottom, yfmt=None):
    rows = [{"time": t, "pt": x, "ex": v} for (t, x, vs) in cols for v in vs]
    df = pd.DataFrame(rows)
    if bottom:
        xaxis = alt.Axis(title="pseudotime", values=xticks, labelFontSize=17, titleFontSize=20,
                         titleFontWeight="normal", ticks=True, tickSize=3, tickColor="black",
                         domainWidth=1.1, labelPadding=1, titlePadding=1)
    else:
        xaxis = None
    yax = dict(title=None, values=yticks, labelFontSize=16, ticks=True, tickSize=3, tickColor="black",
               domainWidth=1.1, labelPadding=2)
    if yfmt:
        yax["format"] = yfmt
    X = alt.X("pt:Q", scale=alt.Scale(domain=xdom, nice=False, zero=False), axis=xaxis)
    Y = alt.Y("ex:Q", scale=alt.Scale(domain=ydom, nice=False, zero=False), axis=alt.Axis(**yax))
    pts = alt.Chart(df).mark_circle(size=28, opacity=1).encode(
        x=X, y=Y, color=alt.Color("time:N", scale=alt.Scale(domain=TIMES_B, range=COLORS_B), legend=None))
    line = alt.Chart(pd.DataFrame({"pt": cx, "ex": cy})).mark_line(
        color="black", strokeWidth=2.2, interpolate="monotone").encode(x=X, y=Y)
    return alt.layer(pts, line).properties(
        width=168, height=60, title=alt.TitleParams(title, fontSize=15, offset=2))


def gene_pair(top, bot, off):
    return indep(alt.vconcat(top, bot, spacing=9, title=alt.TitleParams(
        "Expression data (TPM)", orient="left", anchor="middle", frame="bounds", fontSize=20,
        fontStyle="italic", fontWeight="normal", offset=off)))


def letter_title(ch, off, dx):
    return alt.TitleParams(ch, anchor="start", orient="top", fontSize=22, fontWeight="bold",
                           fontStyle="normal", offset=off, dx=dx)


# ---------------- Section A ----------------
pA1 = box_panel("No impute", NOIMPUTE_BOX, NOIMPUTE_OUT, [-2.3, 48.3], [0, 10, 20, 30, 40])
pA2 = box_panel("scMultiGAN", MULTIGAN_BOX, MULTIGAN_OUT, [-3.0, 65.2], [0, 20, 40, 60])
pA3 = box_panel("scIGANs", IGANS_BOX, IGANS_OUT, [-1.9, 41.5], [0, 10, 20, 30, 40])
pA4 = box_panel("scImpute", SCIMPUTE_BOX, SCIMPUTE_OUT, [-2.0, 42.9], [0, 10, 20, 30, 40], tpad=20)
pA5 = box_panel("ENHANCE", ENHANCE_BOX, ENHANCE_OUT, [-3.1, 62.8], [0, 20, 40, 60])
pA6 = box_panel("DeepImpute", DEEP_BOX, DEEP_OUT, [-2.0, 40.7], [0, 10, 20, 30, 40])
pA7 = box_panel("AutoImpute", AUTO_BOX, AUTO_OUT, [-0.72, 14.6], [0, 5, 10])
pA8 = pcc_panel()

colA = [indep(alt.vconcat(a, b, spacing=21)) for a, b in [(pA1, pA5), (pA2, pA6), (pA3, pA7), (pA4, pA8)]]
sectionA = indep(alt.hconcat(*colA, spacing=20, title=letter_title("A", -26, -7)))

# ---------------- Section B ----------------
RAW_X = [-2.3, 48.8]
MG_X = [-2.5, 64.5]

umap_raw = umap_panel(UMAP_RAW, TRAJ_RAW, [-13.9, 16.3], [-19.9, 13.0], [-10, 0, 10], [-10, 0, 10],
                      "Raw", 16)
umap_mg = umap_panel(UMAP_MG, TRAJ_MG, [-12.85, 14.0], [-11.9, 15.35], [-10, -5, 0, 5, 10],
                     [-10, -5, 0, 5, 10, 15], "scMultiGAN", 32)

g_raw_nanog = gene_panel(RAW_NANOG, RAW_NANOG_CURVE_X, RAW_NANOG_CURVE_Y, RAW_X, [0, 10, 20, 30, 40],
                         [0.3, 13.6], [5, 10], "NANOG", False)
g_raw_pou = gene_panel(RAW_POU5F1, RAW_POU5F1_CURVE_X, RAW_POU5F1_CURVE_Y, RAW_X, [0, 10, 20, 30, 40],
                       [0.5, 12.6], [2.5, 5, 7.5, 10, 12.5], "POU5F1", True, yfmt=".1f")
g_raw_abcc = gene_panel(RAW_ABCC9, RAW_ABCC9_CURVE_X, RAW_ABCC9_CURVE_Y, RAW_X, [0, 10, 20, 30, 40],
                        [0.35, 15.5], [4, 8, 12], "ABCC9", False)
g_raw_dkk = gene_panel(RAW_DKK1, RAW_DKK1_CURVE_X, RAW_DKK1_CURVE_Y, RAW_X, [0, 10, 20, 30, 40],
                       [0.2, 14.7], [5, 10], "DKK1", True)

g_mg_nanog = gene_panel(MG_NANOG, MG_NANOG_CURVE_X, MG_NANOG_CURVE_Y, MG_X, [0, 20, 40, 60],
                        [0.8, 12.6], [2.5, 5, 7.5, 10, 12.5], "NANOG", False, yfmt=".1f")
g_mg_pou = gene_panel(MG_POU5F1, MG_POU5F1_CURVE_X, MG_POU5F1_CURVE_Y, MG_X, [0, 20, 40, 60],
                      [0.55, 11.6], [3, 6, 9], "POU5F1", True)
g_mg_abcc = gene_panel(MG_ABCC9, MG_ABCC9_CURVE_X, MG_ABCC9_CURVE_Y, MG_X, [0, 20, 40, 60],
                       [0.5, 15.7], [4, 8, 12], "ABCC9", False)
g_mg_dkk = gene_panel(MG_DKK1, MG_DKK1_CURVE_X, MG_DKK1_CURVE_Y, MG_X, [0, 20, 40, 60],
                      [0.2, 14.7], [5, 10], "DKK1", True)

rowB1 = indep(alt.hconcat(umap_raw, gene_pair(g_raw_nanog, g_raw_pou, 3),
                          gene_pair(g_raw_abcc, g_raw_dkk, 1), spacing=17))
rowB2 = indep(alt.hconcat(umap_mg, gene_pair(g_mg_nanog, g_mg_pou, 3),
                          gene_pair(g_mg_abcc, g_mg_dkk, 1), spacing=17))
sectionB = indep(alt.vconcat(rowB1, rowB2, spacing=6, title=letter_title("B", 8, 0)))

chart = indep(alt.vconcat(sectionA, sectionB, spacing=0)).properties(padding=0)

chart = chart.configure(font=FONT).configure_view(stroke=None).configure_axis(
    labelFont=FONT, titleFont=FONT, labelFontStyle="italic", titleFontStyle="italic",
    labelColor="#4D4D4D", titleColor="black", domainColor="black", domainWidth=1.6, grid=False,
    labelFontSize=15, titleFontSize=16, titleFontWeight="bold", labelPadding=4, titlePadding=6,
    ticks=False
).configure_title(
    font=FONT, fontStyle="italic", fontWeight="normal", color="black"
).configure_legend(
    labelFont=FONT, titleFont=FONT
)

chart.save("out.html", embed_options={"renderer": "svg", "actions": False})
